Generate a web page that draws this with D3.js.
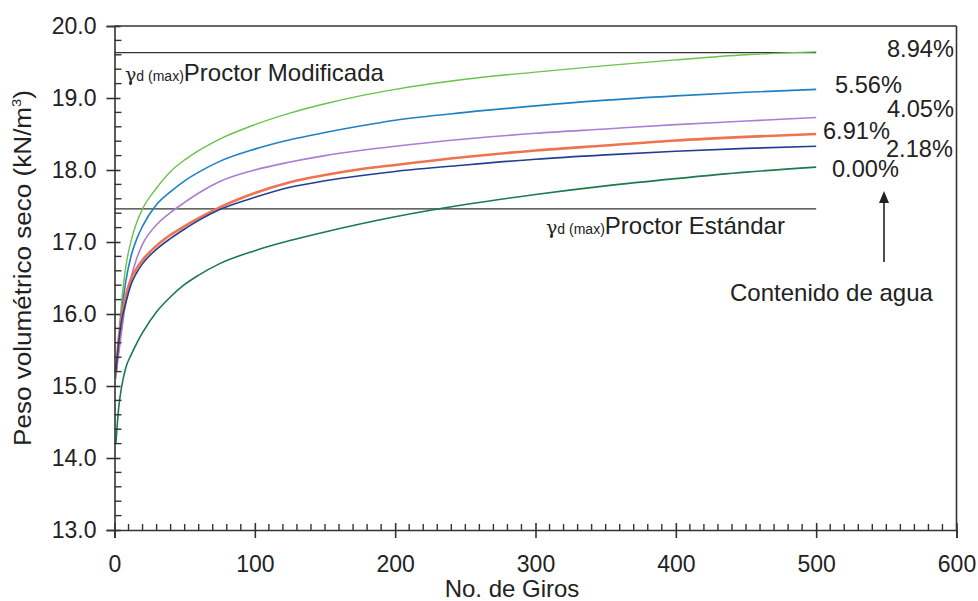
<!DOCTYPE html>
<html>
<head>
<meta charset="utf-8">
<script src="https://cdn.jsdelivr.net/npm/d3@7"></script>
<style>
  html, body { margin: 0; padding: 0; background: #fff; }
  svg { display: block; font-family: "Liberation Sans", Arial, sans-serif; }
</style>
</head>
<body>
<svg id="chart" width="978" height="601"></svg>
<script>
// ---------------- DATA ----------------
const giros = [1, 3, 5, 8, 12, 16, 20, 30, 40, 50, 60, 75, 100, 125, 150, 175, 200, 250, 300, 350, 400, 450, 500];
const w894 = [15.10, 15.70, 16.15, 16.65, 17.03, 17.28, 17.46, 17.75, 17.98, 18.14, 18.27, 18.43, 18.63, 18.79, 18.92, 19.03, 19.12, 19.26, 19.36, 19.45, 19.53, 19.60, 19.64];
const w556 = [15.15, 15.60, 16.00, 16.45, 16.82, 17.05, 17.22, 17.52, 17.70, 17.85, 17.97, 18.12, 18.29, 18.42, 18.52, 18.61, 18.69, 18.80, 18.89, 18.97, 19.03, 19.08, 19.12];
const w405 = [15.15, 15.45, 15.75, 16.15, 16.52, 16.78, 16.97, 17.24, 17.41, 17.55, 17.68, 17.84, 18.00, 18.11, 18.20, 18.27, 18.33, 18.43, 18.51, 18.57, 18.63, 18.68, 18.73];
const w691 = [15.20, 15.65, 15.95, 16.25, 16.50, 16.64, 16.75, 16.95, 17.10, 17.22, 17.33, 17.48, 17.68, 17.83, 17.93, 18.01, 18.07, 18.18, 18.27, 18.34, 18.41, 18.46, 18.50];
const w218 = [15.20, 15.60, 15.90, 16.15, 16.42, 16.58, 16.70, 16.90, 17.05, 17.18, 17.30, 17.45, 17.62, 17.76, 17.85, 17.92, 17.98, 18.07, 18.15, 18.21, 18.26, 18.30, 18.33];
const w000 = [14.20, 14.70, 14.98, 15.25, 15.44, 15.60, 15.74, 16.03, 16.24, 16.41, 16.54, 16.70, 16.88, 17.02, 17.14, 17.25, 17.35, 17.52, 17.66, 17.78, 17.88, 17.97, 18.04];

const seriesNames = ["8.94%", "5.56%", "4.05%", "6.91%", "2.18%", "0.00%"];
const seriesValues = [w894, w556, w405, w691, w218, w000];

const proctorModificada = 19.63;
const proctorEstandar = 17.46;
const refLineEnd = 500;

const xTicks = [0, 100, 200, 300, 400, 500, 600];
const yTicks = [13, 14, 15, 16, 17, 18, 19, 20];

// ---------------- STYLE / LAYOUT ----------------
const colors = ["#6cc24a", "#1f80c4", "#a97fd6", "#f07350", "#233f91", "#1c7a4c"];
const widths = [1.4, 1.6, 1.6, 2.6, 1.6, 1.6];
const labelPos = [ [887, 57], [835, 93], [887, 117], [823, 139], [886, 157], [832, 177] ];

const svg = d3.select("#chart");
const X0 = 114.5, X1 = 956.5, Y0 = 530, Y1 = 26;
const x = d3.scaleLinear().domain([0, 600]).range([X0, X1]);
const y = d3.scaleLinear().domain([13, 20]).range([Y0, Y1]);
const axisColor = "#333";
const fontSize = 23;

// Frame (top and right)
svg.append("line").attr("x1", X0).attr("x2", X1).attr("y1", Y1).attr("y2", Y1)
  .attr("stroke", axisColor).attr("stroke-width", 1.6);
svg.append("line").attr("x1", X1).attr("x2", X1).attr("y1", Y1).attr("y2", Y0)
  .attr("stroke", axisColor).attr("stroke-width", 1.6);

// Reference lines
[proctorModificada, proctorEstandar].forEach(v => {
  svg.append("line").attr("x1", x(0)).attr("x2", x(refLineEnd))
    .attr("y1", y(v)).attr("y2", y(v))
    .attr("stroke", "#333").attr("stroke-width", 1.3);
});

// Curves
const line = d3.line().x((d, i) => x(giros[i])).y(d => y(d)).curve(d3.curveMonotoneX);
seriesValues.forEach((vals, k) => {
  svg.append("path").datum(vals).attr("d", line)
    .attr("fill", "none").attr("stroke", colors[k]).attr("stroke-width", widths[k])
    .attr("stroke-linejoin", "round");
});

// X axis
const xMinor = d3.range(0, 601, 10).filter(v => v % 100 !== 0);
const xAxisG = svg.append("g").attr("transform", `translate(0,${Y0})`);
xAxisG.call(d3.axisBottom(x).tickValues(xTicks).tickFormat(d3.format("d")).tickSize(8).tickPadding(18))
  .call(g => g.select(".domain").attr("stroke", axisColor).attr("stroke-width", 1.6))
  .call(g => g.selectAll(".tick line").attr("stroke", axisColor).attr("stroke-width", 1.6).attr("y1", -7))
  .call(g => g.selectAll(".tick text").attr("font-size", fontSize).attr("fill", "#222")
        .attr("font-family", "Liberation Sans, Arial, sans-serif"));
xAxisG.selectAll(".minor").data(xMinor).enter().append("line")
  .attr("x1", d => x(d)).attr("x2", d => x(d)).attr("y1", 0).attr("y2", -6)
  .attr("stroke", axisColor).attr("stroke-width", 1.4);

// Y axis
const yMinor = d3.range(13, 20.001, 0.2).filter(v => Math.abs(v - Math.round(v)) > 0.01);
const yAxisG = svg.append("g").attr("transform", `translate(${X0},0)`);
yAxisG.call(d3.axisLeft(y).tickValues(yTicks).tickFormat(d3.format(".1f")).tickSize(8).tickPadding(10))
  .call(g => g.select(".domain").attr("stroke", axisColor).attr("stroke-width", 1.6))
  .call(g => g.selectAll(".tick line").attr("stroke", axisColor).attr("stroke-width", 1.6).attr("x1", 6))
  .call(g => g.selectAll(".tick text").attr("font-size", fontSize).attr("fill", "#222")
        .attr("font-family", "Liberation Sans, Arial, sans-serif"));
yAxisG.selectAll(".minor").data(yMinor).enter().append("line")
  .attr("x1", 0).attr("x2", 7).attr("y1", d => y(d)).attr("y2", d => y(d))
  .attr("stroke", axisColor).attr("stroke-width", 1.4);

// Axis titles
svg.append("text").attr("x", 512).attr("y", 597).attr("text-anchor", "middle")
  .attr("font-size", 24).attr("fill", "#222").text("No. de Giros");
const yt = svg.append("text").attr("transform", "translate(31,268) rotate(-90)")
  .attr("text-anchor", "middle").attr("font-size", 23).attr("fill", "#222")
  .attr("textLength", 356).attr("lengthAdjust", "spacingAndGlyphs");
yt.append("tspan").text("Peso volumétrico seco (kN/m");
yt.append("tspan").attr("font-size", 13).attr("dy", -10).text("3");
yt.append("tspan").attr("dy", 10).text(")");

// Reference labels
function refLabel(px, py, main) {
  const t = svg.append("text").attr("x", px).attr("y", py).attr("fill", "#222");
  t.append("tspan").attr("font-size", 19).attr("font-family", "DejaVu Serif, serif").text("γ");
  t.append("tspan").attr("font-size", 14).text("d (max)");
  t.append("tspan").attr("font-size", fontSize + 1).text(main);
}
refLabel(125, 81, "Proctor Modificada");
refLabel(546, 234, "Proctor Estándar");

// Series labels
seriesNames.forEach((name, k) => {
  svg.append("text").attr("x", labelPos[k][0]).attr("y", labelPos[k][1])
    .attr("font-size", 23.6).attr("fill", "#222").text(name);
});

// Arrow + label
svg.append("line").attr("x1", 884).attr("x2", 884).attr("y1", 262).attr("y2", 200)
  .attr("stroke", "#222").attr("stroke-width", 1.6);
svg.append("path").attr("d", "M884,191 L879,203 L889,203 Z").attr("fill", "#222");
svg.append("text").attr("x", 730).attr("y", 301).attr("font-size", fontSize + 1)
  .attr("fill", "#222").text("Contenido de agua");
</script>
</body>
</html>
